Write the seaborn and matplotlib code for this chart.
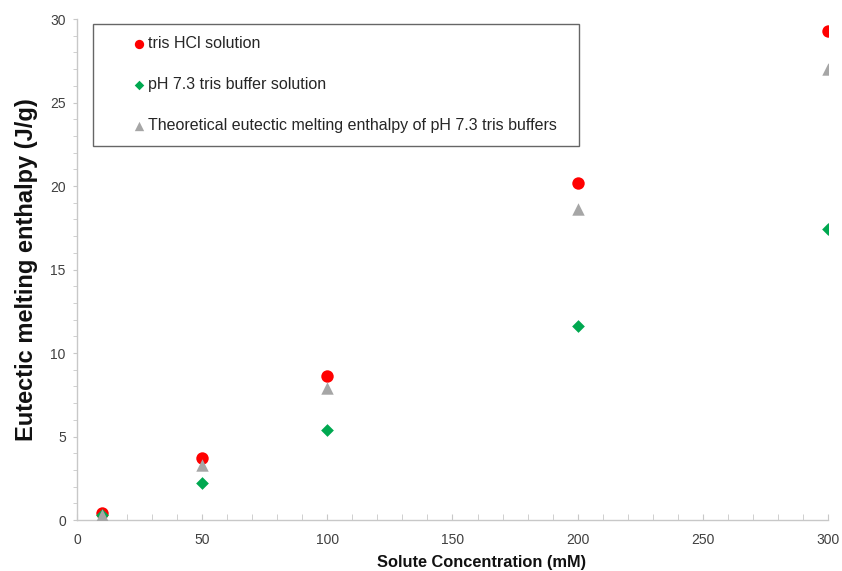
import matplotlib
matplotlib.use("Agg")
import matplotlib.pyplot as plt
import seaborn as sns
import pandas as pd
from matplotlib.ticker import MultipleLocator

# Data
concentration = [10, 50, 100, 200, 300]
tris_hcl = [0.4, 3.7, 8.6, 20.2, 29.3]
tris_buffer = [0.3, 2.2, 5.4, 11.6, 17.4]
theoretical = [0.3, 3.3, 7.9, 18.6, 27.0]

labels = ["tris HCl solution",
          "pH 7.3 tris buffer solution",
          "Theoretical eutectic melting enthalpy of pH 7.3 tris buffers"]

sns.set_style("white")
plt.rcParams['font.family'] = ['Liberation Sans', 'DejaVu Sans']

fig = plt.figure(figsize=(8.42, 5.71), dpi=100)
ax = fig.add_axes([0.0914, 0.0893, 0.892, 0.8774])

sns.scatterplot(x=concentration, y=tris_hcl, ax=ax, color="#FF0000", marker="o",
                s=80, linewidth=0, label=labels[0], zorder=3)
sns.scatterplot(x=concentration, y=tris_buffer, ax=ax, color="#00A850", marker="D",
                s=42, linewidth=0, label=labels[1], zorder=4)
sns.scatterplot(x=concentration, y=theoretical, ax=ax, color="#A6A6A6", marker="^",
                s=80, linewidth=0, label=labels[2], zorder=5)

ax.set_xlim(0, 300)
ax.set_ylim(0, 30)
ax.xaxis.set_major_locator(MultipleLocator(50))
ax.xaxis.set_minor_locator(MultipleLocator(10))
ax.yaxis.set_major_locator(MultipleLocator(5))
ax.yaxis.set_minor_locator(MultipleLocator(1))

for s in ["top", "right"]:
    ax.spines[s].set_visible(False)
for s in ["left", "bottom"]:
    ax.spines[s].set_color("#C8C8C8")
    ax.spines[s].set_linewidth(1.0)

ax.tick_params(axis="x", which="both", direction="in", color="#C8C8C8", length=4,
               labelsize=10, labelcolor="#404040", pad=9, bottom=True)
ax.tick_params(axis="y", which="both", direction="out", color="#C8C8C8", length=3,
               labelsize=10, labelcolor="#404040", pad=5, left=True)

ax.set_xlabel("Solute Concentration (mM)", fontsize=11.8, fontweight="bold",
              color="#111111", labelpad=6, x=0.539)
ax.set_ylabel("Eutectic melting enthalpy (J/g)", fontsize=17, fontweight="bold",
              color="#111111", labelpad=9)

leg = ax.legend(loc="upper left", bbox_to_anchor=(0.0213, 0.99, 0.6476, 0.0),
                mode="expand", fontsize=11.5, frameon=True, fancybox=False,
                edgecolor="#404040", borderpad=0.78, labelspacing=1.62,
                handlelength=4.2, handletextpad=-1.56, borderaxespad=0.0,
                scatterpoints=1, markerscale=0.75)
leg.get_frame().set_linewidth(1.0)
for t in leg.get_texts():
    t.set_color("#262626")

fig.savefig("out.png", dpi=100)
